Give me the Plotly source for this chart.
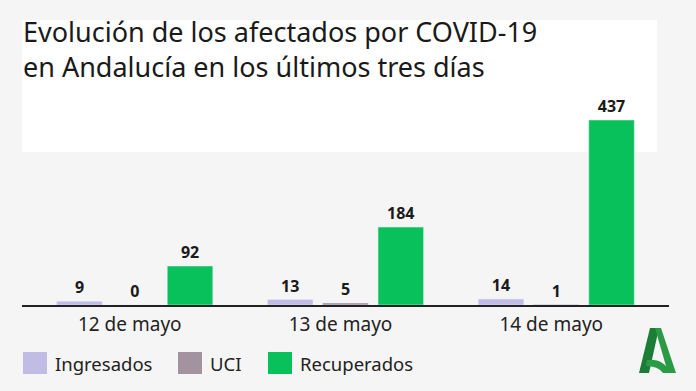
import plotly.graph_objects as go

W, H = 696, 391

categories = ["12 de mayo", "13 de mayo", "14 de mayo"]
series_names = ["Ingresados", "UCI", "Recuperados"]
ingresados = [9, 13, 14]
uci = [0, 5, 1]
recuperados = [92, 184, 437]
colors = ["#c0bce6", "#a3929f", "#08c15b"]

title_lines = ["Evolución de los afectados por COVID-19",
               "en Andalucía en los últimos tres días"]

FONT = "Noto Sans"

def px(x):
    return x / W

def py(y):
    return 1 - y / H

fig = go.Figure()
for name, vals, col in zip(series_names, [ingresados, uci, recuperados], colors):
    fig.add_trace(go.Bar(
        x=categories, y=vals, name=name, marker_color=col,
        text=[str(v) for v in vals], textposition="outside",
        textfont=dict(family=FONT, size=16, color="#1a1a1a", weight="bold"),
        cliponaxis=False, showlegend=False,
    ))

shapes = []
# white title box
shapes.append(dict(type="rect", xref="paper", yref="paper",
                   x0=px(22), x1=px(657), y0=py(152), y1=py(20),
                   fillcolor="white", line_width=0, layer="below"))

annotations = []
# title (single block)
annotations.append(dict(text="<br>".join(title_lines), xref="paper", yref="paper",
                        x=px(21), y=py(49), xanchor="left", yanchor="middle",
                        align="left", showarrow=False,
                        font=dict(family=FONT, size=27, color="#1a1a1a")))

# custom legend
leg_x = [23, 178, 268]
for name, col, lx in zip(series_names, colors, leg_x):
    shapes.append(dict(type="rect", xref="paper", yref="paper",
                       x0=px(lx), x1=px(lx + 24), y0=py(374), y1=py(352),
                       fillcolor=col, line_width=0))
    annotations.append(dict(text=name, xref="paper", yref="paper",
                            x=px(lx + 30), y=py(363), xanchor="left", yanchor="middle",
                            showarrow=False,
                            font=dict(family=FONT, size=18.5, color="#222222")))

def pth(cmds):
    out = []
    for c in cmds:
        if isinstance(c, str):
            out.append(c)
        else:
            out.append(f"{px(c[0]):.5f},{py(c[1]):.5f}")
    return " ".join(out)

# logo
shapes.append(dict(type="path", xref="paper", yref="paper",
                   path=pth(["M", (650, 328), "L", (659, 328), "L", (649, 373), "L", (639, 373), "Z"]),
                   fillcolor="#1b7d36", line_width=0))
shapes.append(dict(type="path", xref="paper", yref="paper",
                   path=pth(["M", (655, 328), "L", (661, 328), "L", (676, 373), "L", (668, 373), "Z"]),
                   fillcolor="#2a9a45", line_width=0))
shapes.append(dict(type="path", xref="paper", yref="paper",
                   path=pth(["M", (647, 360), "Q", (663, 358), (671, 373), "L", (663, 373),
                             "Q", (658, 366), (646, 366), "Z"]),
                   fillcolor="#2a9a45", line_width=0))

fig.update_layout(
    width=W, height=H,
    margin=dict(l=0, r=0, t=0, b=0),
    paper_bgcolor="#f5f5f5", plot_bgcolor="rgba(0,0,0,0)",
    barmode="group", bargap=0.213, bargroupgap=0.1765,
    shapes=shapes, annotations=annotations,
    xaxis=dict(domain=[px(22), px(669)], range=[-0.535, 2.535],
               showline=True, linecolor="#222222", linewidth=1.5,
               ticks="outside", ticklen=1, tickcolor="rgba(0,0,0,0)",
               ticklabelshift=-5,
               tickfont=dict(family=FONT, size=19, color="#222222"),
               showgrid=False, zeroline=False),
    yaxis=dict(domain=[py(305), py(100)], range=[0, 484.3],
               visible=False, showgrid=False, zeroline=False),
    font=dict(family=FONT),
)

fig.write_html("out.html", config={"displayModeBar": False},
               post_script="document.body.style.margin='0';document.body.style.overflow='hidden';")
